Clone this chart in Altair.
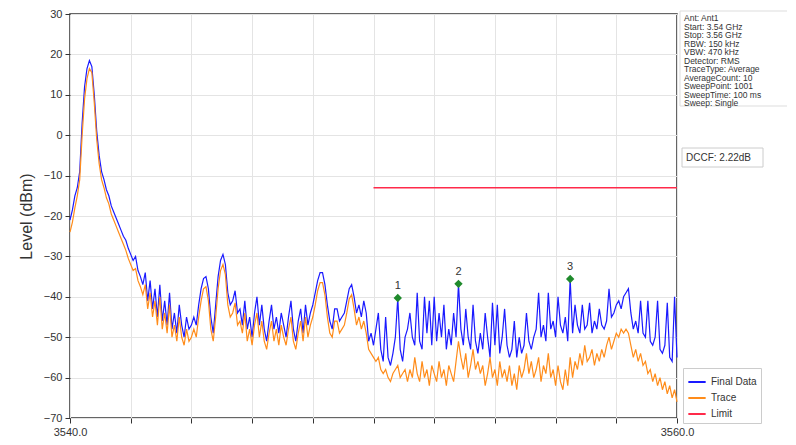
import altair as alt
import pandas as pd

# ---------------- data ----------------
freq_start = 3540.0
freq_step = 0.08

final_data = [
    -21, -18.5, -15, -13, -9, 3, 12, 16.5, 18.5, 17,
    10, 1, -5, -9, -11, -13.5, -15, -17.5, -19, -20.5,
    -22, -23.5, -25, -26, -28, -29.5, -31, -30, -33.5, -35,
    -37, -34, -41, -36, -43, -38, -45, -37, -46, -41,
    -47, -39, -48, -44, -49, -42, -47, -50, -45, -48,
    -47, -45, -47, -42, -38, -35.5, -35, -38, -45, -49,
    -42, -35, -31, -29.5, -32, -39, -42, -41, -38.5, -44,
    -43, -47, -41, -48, -45, -50, -44, -40, -47, -42,
    -48, -51, -46, -42, -48, -45, -49, -44, -47, -50,
    -45, -41, -48, -51, -46, -43, -49, -42, -47, -44,
    -42, -39, -36, -34, -34, -37, -42, -46, -48, -43,
    -43, -46, -45, -44, -41, -38, -37, -40, -44, -42,
    -45, -41, -44, -51, -49, -52, -48, -44, -53, -56,
    -45, -55, -57, -54, -50, -40.3, -53, -56, -50, -48,
    -44, -50, -52, -39, -51, -53, -40, -49, -41, -52,
    -40, -51, -44, -50, -42, -53, -48, -52, -44, -50,
    -36.8, -48, -52, -43, -50, -53, -42, -51, -54, -49,
    -53, -44, -50, -55, -41.5, -52, -42, -54, -50, -43,
    -52, -55, -53, -46, -55, -50, -54, -52, -44, -51,
    -53, -50, -48, -39, -50, -47, -51, -39, -48, -46,
    -50, -40, -47, -49, -45, -51, -35.6, -49, -42, -47,
    -49, -42, -48, -47, -41.5, -49, -46, -48, -43, -47,
    -48, -46, -38, -45, -44, -42, -41, -43, -40, -39,
    -38, -44, -48, -46, -49, -41, -49, -50, -41, -51,
    -52, -50, -41, -53, -54, -52, -41.5, -55, -56, -40, -55,
]

trace = [
    -24, -21.5, -18, -15, -11, 0, 9, 14, 16.5, 15.5,
    8, -1, -7, -11, -13, -15.5, -17, -19.5, -21, -22.5,
    -24, -25.5, -27, -28.5, -30.5, -32, -33.5, -33, -36, -37.5,
    -39.5, -37, -43, -39, -45, -41, -47, -40, -48, -44,
    -49, -42, -50, -47, -51, -45, -50, -52, -48, -51,
    -50, -48, -50, -45, -41, -38, -37.5, -41, -48, -51,
    -45, -38, -33.5, -32, -34.5, -42, -45, -44, -41.5, -47,
    -46, -49, -44, -51, -48, -52, -47, -44, -50, -46,
    -51, -53, -49, -46, -51, -48, -52, -47, -50, -52,
    -48, -45, -51, -53, -49, -46, -51, -45, -50, -47,
    -45, -42, -38.5, -36.5, -36.5, -39.5, -45, -49, -50, -46,
    -46, -49, -48, -47, -44, -40.5, -39.5, -43, -47, -45,
    -48, -46, -49, -53, -54, -55, -56, -55, -58, -59,
    -58, -60, -61, -59, -58, -57, -60, -59, -58, -61,
    -58, -60, -55, -59, -61, -56, -60, -58, -62, -57,
    -59, -61, -56, -60, -58, -62, -57, -59, -61, -56,
    -51, -55, -58, -54, -60, -57, -53, -58, -56, -59,
    -57, -62, -59, -55, -60, -58, -62, -56, -60, -58,
    -61, -57, -62, -59, -63, -57, -60, -58, -54, -59,
    -56, -60, -58, -55, -61, -57, -59, -54, -60, -58,
    -62, -57, -61, -63, -58, -62, -55, -60, -56, -58,
    -54, -57, -52, -56, -55, -53, -57, -54, -56, -53,
    -55, -52, -50, -53, -51, -49, -50, -48, -49, -48,
    -49, -52, -55, -53, -56, -54, -57, -56, -59, -58,
    -61, -59, -62, -60, -63, -61, -64, -62, -65, -63, -66,
]

limit_freq = [3550.0, 3560.0]
limit_level = [-13.0, -13.0]

marker_names = ["1", "2", "3"]
marker_freq = [3550.80, 3552.80, 3556.48]
marker_level = [-40.3, -36.8, -35.6]

series_names = ["Final Data", "Trace", "Limit"]
series_colors = ["#1a1aff", "#ff8c1a", "#ff2a4a"]

y_ticks = [-70, -60, -50, -40, -30, -20, -10, 0, 10, 20, 30]
x_ticks = [3540, 3542, 3544, 3546, 3548, 3550, 3552, 3554, 3556, 3558, 3560]

info_lines = [
    "Ant: Ant1",
    "Start: 3.54 GHz",
    "Stop: 3.56 GHz",
    "RBW: 150 kHz",
    "VBW: 470 kHz",
    "Detector: RMS",
    "TraceType: Average",
    "AverageCount: 10",
    "SweepPoint: 1001",
    "SweepTime: 100 ms",
    "Sweep: Single",
]
dccf_text = "DCCF: 2.22dB"

assert len(final_data) == len(trace) == 251

freqs = [round(freq_start + freq_step * i, 2) for i in range(len(final_data))]

df_final = pd.DataFrame({"freq": freqs, "level": final_data, "series": "Final Data"})
df_trace = pd.DataFrame({"freq": freqs, "level": trace, "series": "Trace"})
df_limit = pd.DataFrame({"freq": limit_freq, "level": limit_level, "series": "Limit"})
df_markers = pd.DataFrame({"freq": marker_freq, "level": marker_level, "name": marker_names})

FONT = "Liberation Sans"

x_enc = alt.X(
    "freq:Q",
    scale=alt.Scale(domain=[3540, 3560], nice=False, zero=False),
    axis=alt.Axis(
        values=x_ticks,
        labelExpr="(datum.value == 3540 || datum.value == 3560) ? format(datum.value, '.1f') : ''",
        labelFlush=False,
        labelOverlap=False,
        tickSize=5,
        labelPadding=3,
        grid=True,
    ),
    title=None,
)
y_enc = alt.Y(
    "level:Q",
    scale=alt.Scale(domain=[-70, 30], nice=False, zero=False),
    axis=alt.Axis(
        values=y_ticks,
        tickSize=5,
        labelPadding=3,
        grid=True,
        titlePadding=9,
    ),
    title="Level (dBm)",
)
color_enc = alt.Color(
    "series:N",
    scale=alt.Scale(domain=series_names, range=series_colors),
    legend=alt.Legend(
        title=None,
        orient="none",
        legendX=613,
        legendY=354,
        symbolType="stroke",
        symbolSize=300,
        symbolStrokeWidth=2,
        labelFontSize=10,
        labelFont=FONT,
        labelColor="#333",
        strokeColor="#cccccc",
        fillColor="white",
        padding=4,
        rowPadding=1,
    ),
)

blue = alt.Chart(df_final).mark_line(strokeWidth=1.2).encode(x=x_enc, y=y_enc, color=color_enc)
orange = alt.Chart(df_trace).mark_line(strokeWidth=1.2).encode(x=x_enc, y=y_enc, color=color_enc)
limit = alt.Chart(df_limit).mark_line(strokeWidth=1.5).encode(x=x_enc, y=y_enc, color=color_enc)

markers = alt.Chart(df_markers).mark_point(
    shape="diamond", filled=True, size=70, color="#1f8a2c", opacity=1
).encode(x="freq:Q", y="level:Q")
marker_labels = alt.Chart(df_markers).mark_text(
    dy=-12, fontSize=11, font=FONT, color="#333"
).encode(x="freq:Q", y="level:Q", text="name:N")

one = pd.DataFrame({"k": [0]})
info_box = alt.Chart(one).mark_rect(fill="white", stroke="#dddddd", strokeWidth=1).encode(
    x=alt.value(610), x2=alt.value(724), y=alt.value(-3), y2=alt.value(92)
)

# one text layer per info line, stacked 8.5 px apart
LINE_H = 8.5
info_layers = []
for i, line in enumerate(info_lines):
    info_layers.append(
        alt.Chart(pd.DataFrame({"t": [line]})).mark_text(
            align="left", baseline="top", fontSize=8.5, font=FONT, color="#333"
        ).encode(x=alt.value(614), y=alt.value(i * LINE_H), text="t:N")
    )

dccf = pd.DataFrame({"t": [dccf_text]})
dccf_box = alt.Chart(dccf).mark_rect(fill="white", stroke="#cccccc", strokeWidth=1).encode(
    x=alt.value(612), x2=alt.value(693), y=alt.value(134), y2=alt.value(153)
)
dccf_label = alt.Chart(dccf).mark_text(
    align="left", baseline="middle", fontSize=10, font=FONT, color="#333"
).encode(x=alt.value(616), y=alt.value(143.5), text="t:N")

chart = alt.layer(
    blue, orange, limit, markers, marker_labels, info_box, *info_layers, dccf_box, dccf_label
).properties(
    width=607,
    height=404,
    autosize="none",
    padding={"left": 62, "top": 6, "right": 110, "bottom": 19},
).configure_view(
    stroke="#333333", strokeWidth=1.5
).configure_axis(
    domain=False,
    tickColor="#333333",
    labelColor="#333333",
    labelFont=FONT,
    labelFontSize=11,
    titleFont=FONT,
    titleFontSize=16,
    titleFontWeight="normal",
    titleColor="#333333",
    gridColor="#e4e4e4",
    gridWidth=1,
)

chart.save("out.html", embed_options={"renderer": "svg", "actions": False})
